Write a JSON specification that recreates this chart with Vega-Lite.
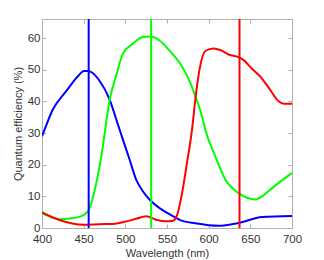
{
  "$schema": "https://vega.github.io/schema/vega-lite/v6.json",
  "autosize": "none",
  "width": 250,
  "height": 209,
  "padding": {"left": 42, "top": 19, "right": 32, "bottom": 32},
  "background": "white",
  "config": {
    "view": {"stroke": "#b0b0b0", "strokeWidth": 1},
    "axis": {"labelFont": "Liberation Sans", "titleFont": "Liberation Sans", "labelFontSize": 11.5, "titleFontSize": 11, "titleFontWeight": "normal", "labelColor": "#333", "titleColor": "#333", "domainColor": "#b0b0b0", "tickColor": "#b0b0b0", "grid": false, "labelFlush": false}
  },
  "datasets": {
    "curves": [
      {"s":"B","wl":400,"q":29},{"s":"B","wl":403,"q":31},{"s":"B","wl":413,"q":37.4},{"s":"B","wl":429,"q":43.2},{"s":"B","wl":445,"q":48.5},{"s":"B","wl":450,"q":49.6},{"s":"B","wl":455,"q":49.6},{"s":"B","wl":460,"q":49.1},{"s":"B","wl":469,"q":46.5},{"s":"B","wl":481,"q":40.7},{"s":"B","wl":489,"q":34.4},{"s":"B","wl":497,"q":28},{"s":"B","wl":505,"q":21.7},{"s":"B","wl":513,"q":15.3},{"s":"B","wl":521,"q":11.6},{"s":"B","wl":529,"q":9},{"s":"B","wl":541,"q":6.3},{"s":"B","wl":556,"q":3.9},{"s":"B","wl":566,"q":2.5},{"s":"B","wl":584,"q":1.5},{"s":"B","wl":612,"q":0.7},{"s":"B","wl":636,"q":1.6},{"s":"B","wl":664,"q":3.5},{"s":"B","wl":700,"q":3.8},
      {"s":"G","wl":400,"q":4.7},{"s":"G","wl":410,"q":3.5},{"s":"G","wl":421,"q":2.8},{"s":"G","wl":433,"q":3},{"s":"G","wl":445,"q":3.5},{"s":"G","wl":455,"q":5.3},{"s":"G","wl":465,"q":14},{"s":"G","wl":472,"q":24},{"s":"G","wl":481,"q":40.2},{"s":"G","wl":489,"q":48.1},{"s":"G","wl":497,"q":55},{"s":"G","wl":509,"q":58.2},{"s":"G","wl":521,"q":60.3},{"s":"G","wl":531,"q":60.5},{"s":"G","wl":541,"q":59.2},{"s":"G","wl":553,"q":56},{"s":"G","wl":568,"q":51},{"s":"G","wl":576,"q":47},{"s":"G","wl":584,"q":41.6},{"s":"G","wl":592,"q":35.3},{"s":"G","wl":596,"q":31},{"s":"G","wl":608,"q":22.6},{"s":"G","wl":620,"q":15.3},{"s":"G","wl":636,"q":11},{"s":"G","wl":656,"q":9},{"s":"G","wl":664,"q":10},{"s":"G","wl":676,"q":12.6},{"s":"G","wl":700,"q":17.4},
      {"s":"R","wl":400,"q":4.9},{"s":"R","wl":420,"q":2.6},{"s":"R","wl":450,"q":1},{"s":"R","wl":469,"q":1.2},{"s":"R","wl":485,"q":1.3},{"s":"R","wl":497,"q":1.8},{"s":"R","wl":513,"q":2.9},{"s":"R","wl":525,"q":3.7},{"s":"R","wl":537,"q":2.6},{"s":"R","wl":549,"q":2.1},{"s":"R","wl":557,"q":2.3},{"s":"R","wl":562,"q":4},{"s":"R","wl":567,"q":9.5},{"s":"R","wl":574,"q":20.6},{"s":"R","wl":580,"q":31},{"s":"R","wl":584,"q":40.6},{"s":"R","wl":589,"q":50},{"s":"R","wl":596,"q":55.9},{"s":"R","wl":606,"q":56.7},{"s":"R","wl":614,"q":56.2},{"s":"R","wl":624,"q":54.8},{"s":"R","wl":637,"q":53.8},{"s":"R","wl":642,"q":53},{"s":"R","wl":652,"q":50.3},{"s":"R","wl":662,"q":47.8},{"s":"R","wl":672,"q":44.3},{"s":"R","wl":684,"q":40},{"s":"R","wl":690,"q":39.2},{"s":"R","wl":700,"q":39.2}
    ],
    "peaks": [
      {"s":"B","wl":456},{"s":"G","wl":531},{"s":"R","wl":637}
    ]
  },
  "layer": [
    {
      "data": {"name": "curves"},
      "mark": {"type": "line", "strokeWidth": 2, "interpolate": "monotone", "clip": true},
      "encoding": {
        "x": {"field": "wl", "type": "quantitative", "scale": {"domain": [400, 700], "nice": false, "zero": false}, "axis": {"title": "Wavelength (nm)", "values": [400,450,500,550,600,650,700], "tickSize": -4, "labelPadding": 9, "titlePadding": 3}},
        "y": {"field": "q", "type": "quantitative", "scale": {"domain": [0, 66], "nice": false}, "axis": {"title": "Quantum efficiency (%)", "values": [0,10,20,30,40,50,60], "tickSize": -4, "labelPadding": 6, "titlePadding": 4}},
        "color": {"field": "s", "type": "nominal", "scale": {"domain": ["B","G","R"], "range": ["#0000ff","#00ff00","#ff0000"]}, "legend": null},
        "detail": {"field": "s"}
      }
    },
    {
      "data": {"name": "peaks"},
      "mark": {"type": "rule", "strokeWidth": 2},
      "encoding": {
        "x": {"field": "wl", "type": "quantitative", "axis": null},
        "color": {"field": "s", "type": "nominal", "legend": null}
      }
    },
    {
      "data": {"name": "curves"},
      "mark": {"type": "line", "opacity": 0},
      "encoding": {
        "x": {"field": "wl", "type": "quantitative", "axis": {"orient": "top", "labels": false, "title": null, "values": [400,450,500,550,600,650,700], "tickSize": -4}},
        "y": {"field": "q", "type": "quantitative", "axis": {"orient": "right", "labels": false, "title": null, "values": [0,10,20,30,40,50,60], "tickSize": -4}},
        "detail": {"field": "s"}
      }
    }
  ],
  "resolve": {"axis": {"x": "independent", "y": "independent"}}
}
